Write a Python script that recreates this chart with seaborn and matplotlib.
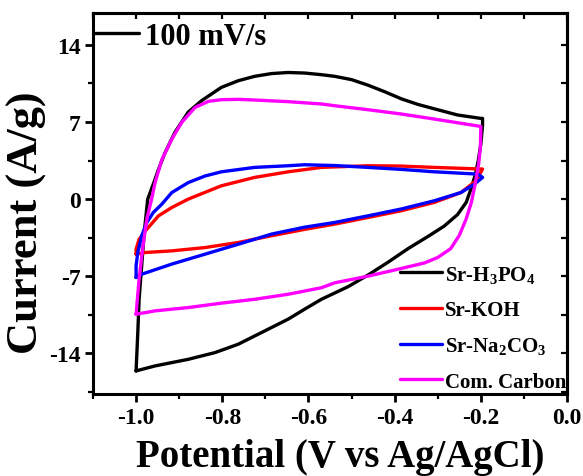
import numpy as np
import pandas as pd
import seaborn as sns
import matplotlib
matplotlib.use("Agg")
import matplotlib.pyplot as plt
from matplotlib.lines import Line2D
from matplotlib.ticker import MultipleLocator

# Cyclic voltammograms at 100 mV/s, each one closed loop (potential in V, current in A/g)
h3po4_v = [-1.0, -0.996, -0.993, -0.987, -0.981, -0.973, -0.956, -0.948, -0.933, -0.910, -0.879,
           -0.848, -0.802, -0.763, -0.725, -0.686, -0.647, -0.609, -0.570, -0.539, -0.500,
           -0.462, -0.423, -0.384, -0.346, -0.308, -0.254, -0.2, -0.196, -0.196, -0.2,
           -0.206, -0.213, -0.223, -0.234, -0.254, -0.285, -0.323, -0.369, -0.416, -0.462,
           -0.508, -0.570, -0.609, -0.647, -0.709, -0.763, -0.817, -0.879, -0.956, -1.0]
h3po4_i = [-15.6, -12.1, -9.1, -6.06, -3.0, 0.0, 1.8, 2.7, 4.2, 6.06, 7.9,
           8.94, 10.15, 10.75, 11.15, 11.4, 11.5, 11.45, 11.3, 11.15, 10.85,
           10.35, 9.75, 9.1, 8.6, 8.2, 7.64, 7.33, 7.33, 6.7, 5.0,
           3.5, 2.2, 0.9, -0.3, -1.4, -2.45, -3.4, -4.5, -5.75, -6.9,
           -7.95, -9.1, -10.0, -10.9, -12.12, -13.18, -13.94, -14.55, -15.15, -15.6]

koh_v = [-1.0, -1.0, -0.993, -0.975, -0.948, -0.917, -0.879, -0.802, -0.725, -0.647, -0.570,
         -0.462, -0.385, -0.308, -0.196, -0.211, -0.246, -0.308, -0.385, -0.462, -0.539,
         -0.609, -0.686, -0.763, -0.840, -0.917, -0.979, -1.0]
koh_i = [-5.0, -4.55, -3.64, -2.73, -1.52, -0.76, 0.0, 1.21, 1.97, 2.48, 2.88,
         3.03, 3.0, 2.88, 2.73, 1.67, 0.6, -0.3, -1.06, -1.67, -2.27,
         -2.75, -3.33, -3.94, -4.4, -4.7, -4.85, -5.0]

na2co3_v = [-1.0, -1.0, -0.996, -0.987, -0.975, -0.960, -0.940, -0.917, -0.879, -0.840, -0.802,
            -0.725, -0.647, -0.609, -0.539, -0.462, -0.385, -0.308, -0.207, -0.196, -0.215,
            -0.246, -0.308, -0.385, -0.462, -0.539, -0.609, -0.686, -0.763, -0.840, -0.917,
            -0.987, -1.0]
na2co3_i = [-7.12, -6.06, -4.85, -3.33, -2.12, -1.21, -0.45, 0.6, 1.5, 2.1, 2.48,
            2.88, 3.03, 3.12, 3.05, 2.88, 2.7, 2.48, 2.27, 1.97, 1.36,
            0.6, -0.15, -0.9, -1.52, -2.12, -2.55, -3.18, -4.1, -5.0, -5.9,
            -6.82, -7.12]

carbon_v = [-1.0, -0.993, -0.985, -0.975, -0.964, -0.956, -0.940, -0.917, -0.894, -0.863, -0.832,
            -0.802, -0.763, -0.725, -0.647, -0.570, -0.539, -0.462, -0.385, -0.308, -0.2,
            -0.201, -0.205, -0.214, -0.222, -0.234, -0.250, -0.270, -0.300, -0.331, -0.385,
            -0.462, -0.539, -0.570, -0.647, -0.725, -0.802, -0.879, -0.956, -1.0]
carbon_i = [-10.45, -7.27, -4.55, -1.8, 0.0, 1.5, 3.6, 5.45, 6.97, 8.33, 8.88,
            9.03, 9.06, 9.0, 8.85, 8.64, 8.48, 8.12, 7.73, 7.27, 6.6,
            4.8, 3.2, 1.2, -0.3, -1.8, -3.3, -4.5, -5.3, -5.8, -6.3,
            -7.0, -7.6, -8.05, -8.64, -9.1, -9.45, -9.85, -10.15, -10.45]

labels = [r"Sr-H$_3$PO$_4$", "Sr-KOH", r"Sr-Na$_2$CO$_3$", "Com. Carbon"]
colors = ["#000000", "#ff0000", "#0000ff", "#ff00ff"]
x_ticks = [-1.0, -0.8, -0.6, -0.4, -0.2, 0.0]
y_ticks = [-14, -7, 0, 7, 14]

frames = []
for lab, v, i in zip(labels, [h3po4_v, koh_v, na2co3_v, carbon_v],
                     [h3po4_i, koh_i, na2co3_i, carbon_i]):
    frames.append(pd.DataFrame({"Potential": v, "Current": i, "Sample": lab}))
df = pd.concat(frames, ignore_index=True)

sns.set_style("ticks")
plt.rcParams["font.family"] = ["Liberation Serif", "DejaVu Serif"]
plt.rcParams["font.weight"] = "bold"
plt.rcParams["text.color"] = "black"
plt.rcParams["axes.labelcolor"] = "black"
plt.rcParams["xtick.color"] = "black"
plt.rcParams["ytick.color"] = "black"
plt.rcParams["axes.edgecolor"] = "black"
plt.rcParams["axes.unicode_minus"] = False
plt.rcParams["mathtext.fontset"] = "custom"
plt.rcParams["mathtext.rm"] = "Liberation Serif:bold"
plt.rcParams["mathtext.bf"] = "Liberation Serif:bold"
plt.rcParams["mathtext.default"] = "bf"

fig = plt.figure(figsize=(5.83, 4.77), dpi=100)
ax = fig.add_axes([0.1595, 0.1719, 0.8131, 0.7987])

sns.lineplot(data=df, x="Potential", y="Current", hue="Sample", hue_order=labels,
             palette=colors, sort=False, estimator=None, units="Sample",
             linewidth=2.4, legend=False, ax=ax)
for ln in ax.get_lines():
    ln.set_solid_joinstyle("round")

ax.set_xlim(-1.1, 0.0)
ax.set_ylim(-17.7, 16.9)
ax.set_xticks(x_ticks)
ax.set_xticklabels([f"{t:.1f}" for t in x_ticks])
ax.set_yticks(y_ticks)
ax.set_yticklabels([str(t) for t in y_ticks])
ax.xaxis.set_minor_locator(MultipleLocator(0.1))
ax.yaxis.set_minor_locator(MultipleLocator(3.5))
ax.tick_params(which="major", direction="out", length=6, width=2, labelsize=17, pad=3)
ax.tick_params(which="minor", direction="out", length=3.5, width=1.6)
for lbl in ax.get_xticklabels() + ax.get_yticklabels():
    lbl.set_fontweight("bold")
for s in ax.spines.values():
    s.set_linewidth(2.2)

# mirrored ticks on top and right, pointing inwards
top = ax.secondary_xaxis("top")
top.set_xticks(np.arange(-1.1, 0.01, 0.1))
top.tick_params(direction="in", length=4, width=1.6, labeltop=False)
top.spines["top"].set_linewidth(2.2)
right = ax.secondary_yaxis("right")
right.set_yticks(np.arange(-17.5, 17, 3.5))
right.tick_params(direction="in", length=4, width=1.6, labelright=False)
right.spines["right"].set_linewidth(2.2)

ax.set_xlabel("Potential (V vs Ag/AgCl)", fontsize=28, fontweight="bold")
ax.set_ylabel("Current (A/g)", fontsize=32, fontweight="bold")
ax.xaxis.set_label_coords(0.521, -0.115)
ax.yaxis.set_label_coords(-0.097, 0.451)

handles = [Line2D([], [], color=c, lw=2.4) for c in colors]
leg = ax.legend(handles, labels, loc="lower right", frameon=False,
                prop={"size": 15, "weight": "bold"},
                handlelength=2.0, handletextpad=0.15, labelspacing=0.74,
                borderaxespad=0.0, bbox_to_anchor=(1.016, -0.016))
ax.add_artist(leg)

rate = ax.legend([Line2D([], [], color="black", lw=2.4)], ["100 mV/s"], loc="upper left",
                 frameon=False, prop={"size": 22, "weight": "bold"},
                 handlelength=1.45, handletextpad=0.2, borderaxespad=0.0, borderpad=0.0,
                 bbox_to_anchor=(0.004, 0.977))

fig.savefig("out.png", dpi=100)
